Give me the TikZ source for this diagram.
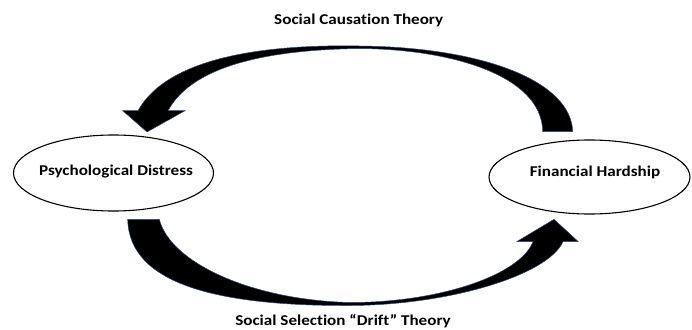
\documentclass[tikz,border=0pt]{standalone}
\usepackage{fontspec}
\setmainfont{Carlito}
\newfontfamily\lblfont[FakeStretch=1.14, Ligatures=NoCommon]{Carlito}
\usetikzlibrary{shapes.geometric}
\definecolor{arrowedge}{HTML}{2F4A7A}
\tikzset{
  oval/.style={ellipse, draw=black, line width=1.1pt, inner sep=0pt},
  lbl/.style={font=\lblfont\bfseries\fontsize{15}{18}\selectfont, text=black, inner sep=0pt},
  bigarrow/.style={fill=black, draw=arrowedge, line width=0.5pt, line join=miter}
}
\begin{document}
\begin{tikzpicture}[x=1pt, y=-1pt]
\useasboundingbox (0,0) rectangle (692,329);
% ovals
\node[oval, minimum width=200pt, minimum height=76pt] (pd) at (113.5,173) {};
\node[oval, minimum width=201pt, minimum height=74pt] (fh) at (589.5,177) {};
\node[lbl] (pdtext) at (116,172) {Psychological Distress};
\node[lbl] (fhtext) at (595,172) {Financial Hardship};
% titles
\node[lbl] (top) at (358.7,20) {Social Causation Theory};
\node[lbl] (bottom) at (343,321) {Social Selection “Drift” Theory};
% top curved arrow (Financial Hardship -> Psychological Distress)
\draw[bigarrow] (572.7,131.7) .. controls (571,80) and (480,47) .. (359,46)
  .. controls (250,44) and (165,62) .. (138,110.7)
  -- (122.7,110.7) -- (147,132) -- (185,110.7) -- (168,110.7)
  .. controls (190,70) and (255,50) .. (359,48.5)
  .. controls (450,49) and (542,75) .. (542.7,131.7) -- cycle;
% bottom curved arrow (Psychological Distress -> Financial Hardship)
\draw[bigarrow] (127.7,219.3) .. controls (129,285) and (220,306) .. (350,305.5)
  .. controls (450,305) and (548,275) .. (563,241.7)
  -- (578.3,241.7) -- (554,219.3) -- (516.7,241.7) -- (533,241.7)
  .. controls (520,275) and (440,302.5) .. (350,302.5)
  .. controls (250,300) and (170,262) .. (159.3,219.3) -- cycle;
\end{tikzpicture}
\end{document}
